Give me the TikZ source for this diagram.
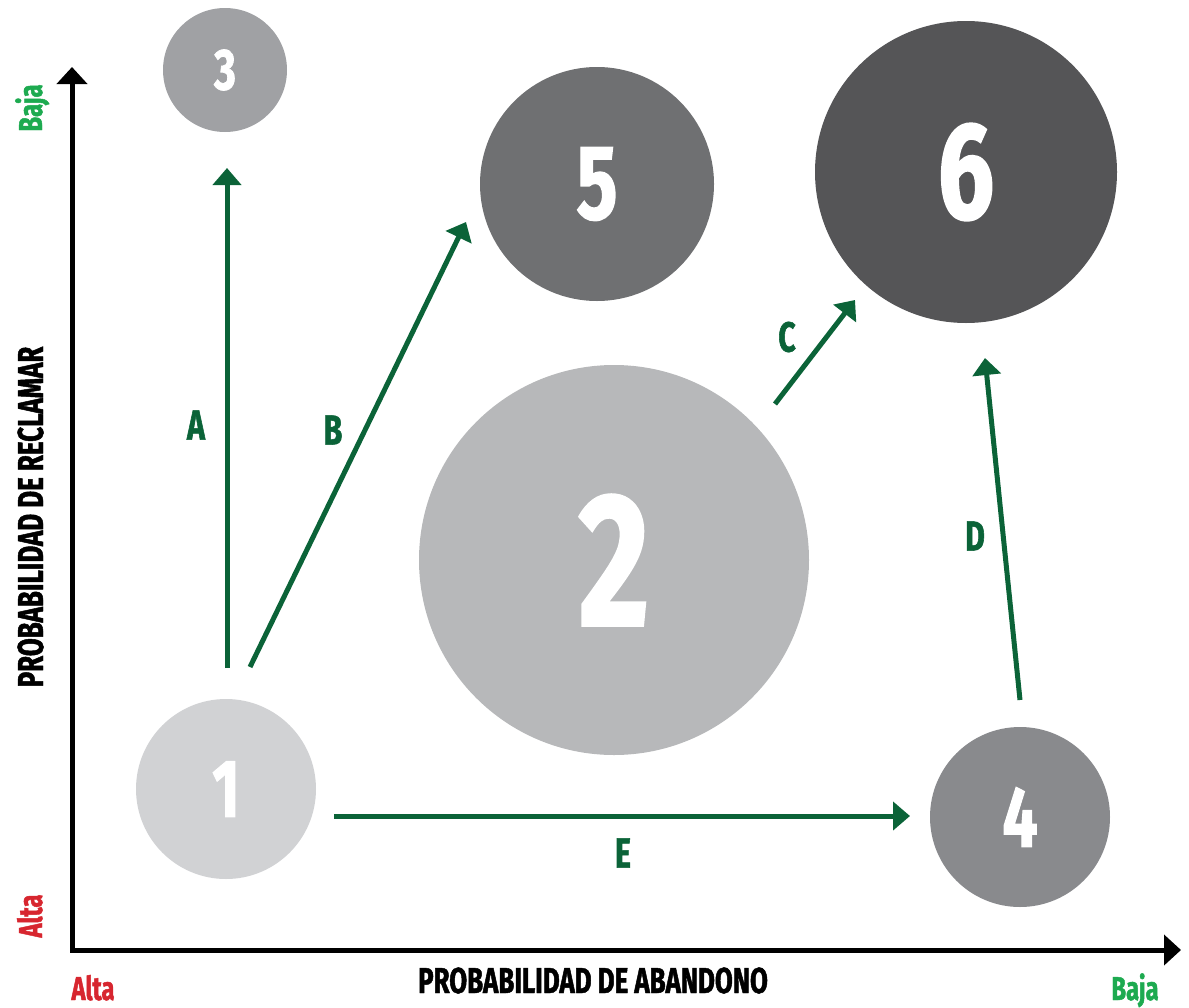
\documentclass[tikz,border=0pt]{standalone}
\usepackage{fontspec}
\newfontfamily\cf{Fira Sans Bold}[FakeStretch=0.72,FakeBold=1.3]
\usetikzlibrary{arrows.meta}
\definecolor{dg}{HTML}{0B6338}
\definecolor{lg}{HTML}{1DAA50}
\definecolor{rd}{HTML}{D7262F}
\definecolor{cA}{HTML}{D1D2D4}
\definecolor{cB}{HTML}{B7B8BA}
\definecolor{cC}{HTML}{A0A1A4}
\definecolor{cD}{HTML}{898A8D}
\definecolor{cE}{HTML}{6F7072}
\definecolor{cF}{HTML}{555557}
\newcommand{\fs}[1]{\cf\fontsize{#1}{#1}\selectfont}
\begin{document}
\begin{tikzpicture}[x=1pt,y=-1pt,
  bub/.style={circle,inner sep=0pt,minimum size=#1,text=white},
  conn/.style={draw=dg,line width=5pt,-{Triangle[width=28pt,length=17pt]}},
  axisline/.style={draw=black,line width=5pt,line join=miter,{Triangle[width=30pt,length=17pt]}-{Triangle[width=30pt,length=17pt]}},
  lbl/.style={text=dg,font=\fs{42},inner sep=0pt},
  ttl/.style={text=black,font=\fs{36},inner sep=0pt},
  ends/.style={font=\fs{33},inner sep=0pt}]
\useasboundingbox (0,0) rectangle (1189,1007);
% axes
\coordinate (ytip) at (72,67);
\coordinate (orig) at (72,950);
\coordinate (xtip) at (1181,950);
\draw[axisline] (ytip) -- (orig) -- (xtip);
% bubbles
\node[bub=124pt,fill=cC,font=\fs{58}] (n3) at (225,70) {3};
\node[bub=234pt,fill=cE,font=\fs{106}] (n5) at (597,184) {5};
\node[bub=302pt,fill=cF,font=\fs{138}] (n6) at (966,172) {6};
\node[bub=390pt,fill=cB,font=\fs{190}] (n2) at (614,560) {2};
\node[bub=180pt,fill=cA,font=\fs{82}] (n1) at (226,789) {1};
\node[bub=180pt,fill=cD,font=\fs{86}] (n4) at (1020,817) {4};
% connector endpoints
\coordinate (a0) at (227,668); \coordinate (a1) at (227,168);
\coordinate (b0) at (250,667); \coordinate (b1) at (466,222);
\coordinate (c0) at (775,404); \coordinate (c1) at (855,300);
\coordinate (d0) at (1020,700); \coordinate (d1) at (985,358);
\coordinate (e0) at (334,816); \coordinate (e1) at (910,816);
\draw[conn] (a0) -- (a1);
\draw[conn] (b0) -- (b1);
\draw[conn] (c0) -- (c1);
\draw[conn] (d0) -- (d1);
\draw[conn] (e0) -- (e1);
\node[lbl] (lA) at (196,425) {A};
\node[lbl] (lB) at (333,430) {B};
\node[lbl] (lC) at (787,337) {C};
\node[lbl] (lD) at (975,536) {D};
\node[lbl] (lE) at (623,853) {E};
% axis titles
\node[ttl,anchor=base] (tx) at (593,993) {PROBABILIDAD DE ABANDONO};
\node[ttl,anchor=base,rotate=90] (ty) at (43,517) {PROBABILIDAD DE RECLAMAR};
\node[ends,text=rd,anchor=base] (xa) at (93,1000) {Alta};
\node[ends,text=lg,anchor=base] (xb) at (1135,1000) {Baja};
\node[ends,text=rd,anchor=base,rotate=90] (ya) at (42,916) {Alta};
\node[ends,text=lg,anchor=base,rotate=90] (yb) at (42,108) {Baja};
\end{tikzpicture}
\end{document}
